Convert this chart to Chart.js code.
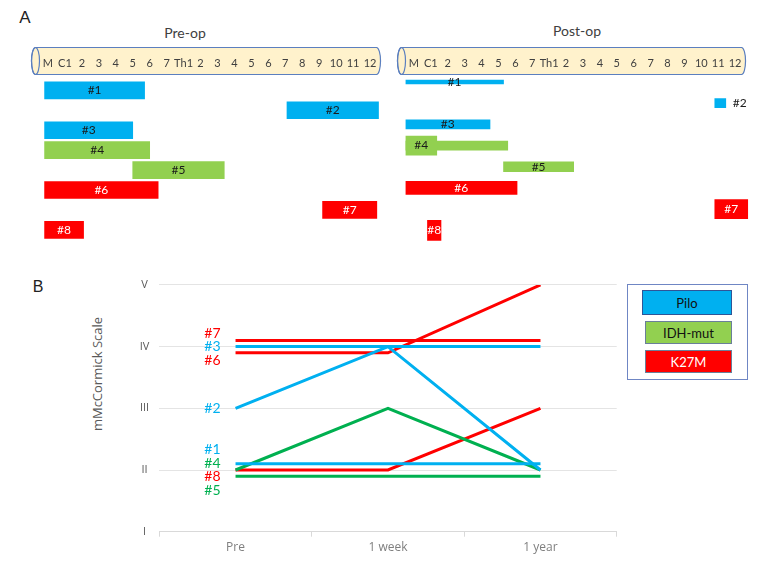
<!DOCTYPE html>
<html>
<head>
<meta charset="utf-8">
<script src="https://cdn.jsdelivr.net/npm/chart.js@4.4.1/dist/chart.umd.min.js"></script>
<style>
  body { margin: 0; background: #fff; width: 759px; height: 565px; overflow: hidden; position: relative; font-family: Lato, sans-serif; }
  canvas { position: absolute; }
  .txt { position: absolute; transform: translate(-50%, -50%); white-space: nowrap; }
  #legend { position: absolute; left: 627px; top: 284px; width: 119px; height: 94px; border: 1.5px solid #6f86c4; }
  .key { position: absolute; box-sizing: border-box; display: flex; align-items: center; justify-content: center; font: 13px Lato, sans-serif; }
</style>
</head>
<body>
<div class="txt" style="left:25px;top:18px;font:17px 'Liberation Sans';color:#222">A</div>
<div class="txt" style="left:38px;top:287px;font:16px 'Liberation Sans';color:#222">B</div>
<div class="txt" style="left:185px;top:32px;font:14px Lato;color:#404040">Pre-op</div>
<div class="txt" style="left:577px;top:30px;font:14px Lato;color:#404040">Post-op</div>
<div class="txt" style="left:97px;top:374px;font:13px 'Open Sans';color:#595959;transform:translate(-50%,-50%) rotate(-90deg)">mMcCormick Scale</div>

<canvas id="preChart" width="395" height="250" style="left:0;top:0"></canvas>
<canvas id="postChart" width="364" height="250" style="left:395px;top:0"></canvas>
<canvas id="scoreChart" width="625" height="310" style="left:0;top:255px"></canvas>

<div id="legend">
  <div class="key" style="left:14px;top:5px;width:90px;height:25px;background:#00B0F0;border:1px solid #2f5597;color:#111">Pilo</div>
  <div class="key" style="left:17px;top:36px;width:87px;height:23px;background:#92D050;border:1px solid #6a7f99;color:#111">IDH-mut</div>
  <div class="key" style="left:17px;top:65px;width:87px;height:23px;background:#FF0000;border:1px solid #6a7f99;color:#fff">K27M</div>
</div>

<script>
// spinal levels along the tube
var vertebrae = ["M", "C1", "2", "3", "4", "5", "6", "7", "Th1", "2", "3", "4", "5", "6", "7", "8", "9", "10", "11", "12"];

var patients = ["#1", "#2", "#3", "#4", "#5", "#6", "#7", "#8"];
var groups = ["Pilo", "Pilo", "Pilo", "IDH-mut", "IDH-mut", "K27M", "K27M", "K27M"];

// tumour extent before surgery (in level units, M = 0..1)
var preStart = [0.3, 14.6, 0.3, 0.3, 5.5, 0.3, 16.7, 0.3];
var preEnd = [6.2, 20.0, 5.5, 6.5, 10.9, 7.0, 19.9, 2.6];

// residual after surgery (#4 has two parts)
var postPatient = ["#1", "#2", "#3", "#4", "#4", "#5", "#6", "#7", "#8"];
var postStart = [0, 18.3, 0, 0, 0, 5.8, 0, 18.3, 1.3];
var postEnd = [5.8, 18.95, 5.0, 1.85, 6.05, 9.95, 6.6, 20.25, 2.1];
var postThickness = [4, 9, 9, 19, 9, 10, 13, 19, 20];

// mMcCormick grade over time
var timepoints = ["Pre", "1 week", "1 year"];
var grades = ["I", "II", "III", "IV", "V"];
var score1 = [2.1, 2.1, 2.1];
var score2 = [3, 4, 2];
var score3 = [4, 4, 4];
var score4 = [2, 3, 2];
var score5 = [1.9, 1.9, 1.9];
var score6 = [3.9, 3.9, 5];
var score7 = [4.1, 4.1, 4.1];
var score8 = [2, 2, 3];
var scores = [score1, score2, score3, score4, score5, score6, score7, score8];

var barColor = { "Pilo": "#00B0F0", "IDH-mut": "#92D050", "K27M": "#FF0000" };
var lineColor = { "Pilo": "#00B0F0", "IDH-mut": "#00B050", "K27M": "#FF0000" };
var tagColor = { "Pilo": "#1a1a1a", "IDH-mut": "#1a1a1a", "K27M": "#ffffff" };

function groupOf(p) { return groups[patients.indexOf(p)]; }

// the cylinder behind the level labels
var tube = {
  id: "tube",
  beforeDraw: function (chart) {
    var x = chart.scales.x, ctx = chart.ctx;
    var l = x.getPixelForValue(0) - 4, r = x.getPixelForValue(20) + 2;
    var t = 47.5, b = 74.5, m = (t + b) / 2, ry = (b - t) / 2, rx = 4;
    ctx.save();
    ctx.beginPath();
    ctx.moveTo(l, t);
    ctx.lineTo(r - rx, t);
    ctx.ellipse(r - rx, m, rx, ry, 0, -Math.PI / 2, Math.PI / 2);
    ctx.lineTo(l, b);
    ctx.ellipse(l, m, rx, ry, 0, Math.PI / 2, Math.PI * 1.5);
    ctx.closePath();
    ctx.fillStyle = "#FFF2CC";
    ctx.fill();
    ctx.strokeStyle = "#5b7fbf";
    ctx.lineWidth = 1.2;
    ctx.stroke();
    ctx.beginPath();
    ctx.ellipse(l, m, rx, ry, 0, 0, Math.PI * 2);
    ctx.stroke();
    ctx.restore();
  }
};

// "#n" written on each bar (or next to it when the bar is too small)
var barTags = {
  id: "barTags",
  afterDatasetsDraw: function (chart) {
    var ctx = chart.ctx, seen = {};
    ctx.save();
    ctx.font = "12px Lato";
    ctx.textBaseline = "middle";
    chart.data.datasets.forEach(function (ds, d) {
      chart.getDatasetMeta(d).data.forEach(function (bar, i) {
        var p = ds.tags[i];
        if (seen[p]) return;
        seen[p] = true;
        var left = Math.min(bar.x, bar.base), right = Math.max(bar.x, bar.base);
        var w = ctx.measureText(p).width;
        if (right - left < w * 0.9) {
          ctx.textAlign = "left";
          ctx.fillStyle = "#1a1a1a";
          ctx.fillText(p, right + 7, bar.y);
        } else {
          ctx.textAlign = "center";
          ctx.fillStyle = tagColor[groupOf(p)];
          ctx.fillText(p, (left + right) / 2, bar.y);
        }
      });
    });
    ctx.restore();
  }
};

function levelAxis(pad, height) {
  return {
    type: "linear",
    position: "top",
    min: 0,
    max: 20.3,
    afterBuildTicks: function (s) {
      s.ticks = vertebrae.map(function (v, i) { return { value: i + 0.5 }; });
    },
    afterFit: function (s) { s.height = height; },
    ticks: {
      autoSkip: false,
      maxRotation: 0,
      padding: pad,
      color: "#404040",
      font: { family: "Lato", size: 11 },
      callback: function (v, i) { return vertebrae[i]; }
    },
    grid: { display: false, drawTicks: false },
    border: { display: false }
  };
}

new Chart("preChart", {
  type: "bar",
  data: {
    labels: patients,
    datasets: [{
      data: preStart.map(function (s, i) { return [s, preEnd[i]]; }),
      tags: patients,
      backgroundColor: patients.map(function (p) { return barColor[groupOf(p)]; }),
      barThickness: 17,
      borderWidth: 0
    }]
  },
  options: {
    indexAxis: "y",
    responsive: false,
    animation: false,
    layout: { padding: { left: 39.5, right: 11.4, top: 46, bottom: 10.2 } },
    plugins: { legend: { display: false }, tooltip: { enabled: false } },
    scales: {
      x: levelAxis(10.8, 34.4),
      y: { type: "category", display: false }
    }
  },
  plugins: [tube, barTags]
});

new Chart("postChart", {
  type: "bar",
  data: {
    labels: patients,
    datasets: postPatient.map(function (p, i) {
      return {
        data: [{ x: [postStart[i], postEnd[i]], y: p }],
        tags: [p],
        backgroundColor: barColor[groupOf(p)],
        barThickness: postThickness[i],
        grouped: false,
        borderWidth: 0
      };
    })
  },
  options: {
    indexAxis: "y",
    responsive: false,
    animation: false,
    layout: { padding: { left: 10.5, right: 10.4, top: 40, bottom: 9.1 } },
    plugins: { legend: { display: false }, tooltip: { enabled: false } },
    scales: {
      x: levelAxis(1.8, 31.4),
      y: { type: "category", display: false }
    }
  },
  plugins: [tube, barTags]
});

// patient labels left of the lines, spread apart where they crowd
var lineTags = {
  id: "lineTags",
  afterDatasetsDraw: function (chart) {
    var ctx = chart.ctx;
    var items = chart.data.datasets.map(function (ds, d) {
      var pt = chart.getDatasetMeta(d).data[0];
      return { text: ds.label, color: ds.borderColor, x: pt.x, y: pt.y };
    });
    items.sort(function (a, b) { return a.y - b.y; });
    var clusters = [];
    items.forEach(function (it) {
      var last = clusters[clusters.length - 1];
      if (last && it.y - last[last.length - 1].y < 20) last.push(it);
      else clusters.push([it]);
    });
    ctx.save();
    ctx.font = "14px Lato";
    ctx.textAlign = "right";
    ctx.textBaseline = "middle";
    clusters.forEach(function (c) {
      var mean = c.reduce(function (s, it) { return s + it.y; }, 0) / c.length;
      c.forEach(function (it, k) {
        ctx.fillStyle = it.color;
        ctx.fillText(it.text, it.x - 15, mean + (k - (c.length - 1) / 2) * 13.4);
      });
    });
    ctx.restore();
  }
};

new Chart("scoreChart", {
  type: "line",
  data: {
    labels: timepoints,
    datasets: patients.map(function (p, i) {
      return {
        label: p,
        data: scores[i],
        borderColor: lineColor[groups[i]],
        borderWidth: 3,
        pointRadius: 0,
        tension: 0,
        fill: false
      };
    })
  },
  options: {
    responsive: false,
    animation: false,
    layout: { padding: { left: 100, right: 8.3, top: 29.9, bottom: 8.3 } },
    plugins: { legend: { display: false }, tooltip: { enabled: false } },
    scales: {
      x: {
        type: "category",
        offset: true,
        afterFit: function (s) { s.height = 25; },
        grid: { drawOnChartArea: false, offset: true, tickLength: 5, color: "#d9d9d9" },
        border: { display: true, color: "#d9d9d9" },
        ticks: { padding: 4, color: "#7f7f7f", font: { family: "Open Sans", size: 12 } }
      },
      y: {
        min: 1,
        max: 5,
        afterFit: function (s) { s.width = 59.3; },
        grid: { color: "#e4e4e4", drawTicks: false },
        border: { display: false },
        ticks: {
          stepSize: 1,
          padding: 10,
          crossAlign: "center",
          color: "#595959",
          font: { family: "Open Sans", size: 11 },
          callback: function (v) { return grades[v - 1]; }
        }
      }
    }
  },
  plugins: [lineTags]
});
</script>
</body>
</html>
